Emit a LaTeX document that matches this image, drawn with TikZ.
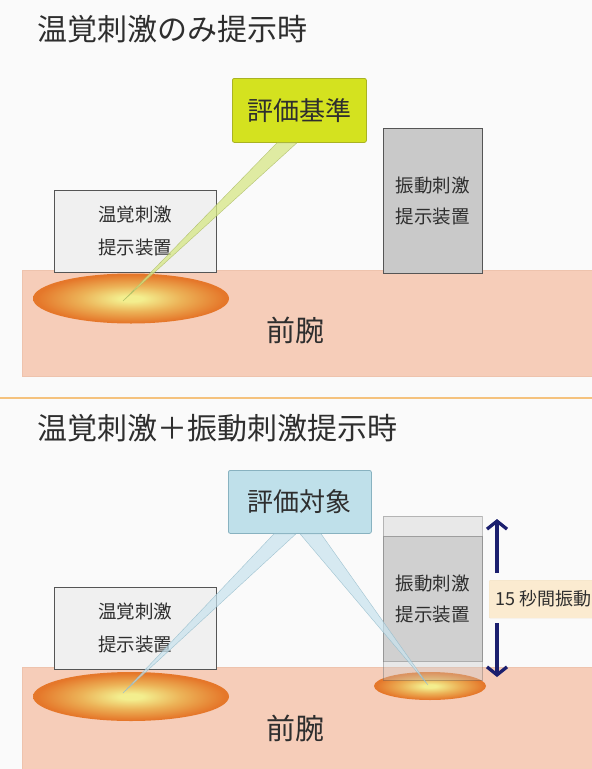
\documentclass[tikz,border=0pt]{standalone}
\usepackage{fontspec}
\newfontfamily\jp{Noto Sans CJK JP}
\usetikzlibrary{arrows.meta,calc}
\definecolor{bgc}{HTML}{FAFAFA}
\definecolor{armc}{HTML}{F6CDB9}
\definecolor{armedge}{HTML}{EEC3AD}
\definecolor{devlight}{HTML}{F0F0F0}
\definecolor{devgray}{HTML}{C9C9C9}
\definecolor{devedge}{HTML}{555555}
\definecolor{evgreen}{HTML}{D4E21F}
\definecolor{evgreenedge}{HTML}{A9B322}
\definecolor{evblue}{HTML}{BFE0EA}
\definecolor{evblueedge}{HTML}{88B2C0}
\definecolor{beamg}{HTML}{D6E785}
\definecolor{beamgedge}{HTML}{A8B860}
\definecolor{beamb}{HTML}{C8E3EE}
\definecolor{beambedge}{HTML}{8FB8C8}
\definecolor{navy}{HTML}{1B1F6E}
\definecolor{labelbg}{HTML}{FBEBD0}
\definecolor{sepc}{HTML}{F5C27D}
\definecolor{txt}{HTML}{2E2E2E}
\definecolor{hy}{HTML}{F3EE8E}
\definecolor{hm}{HTML}{ECB257}
\definecolor{ho}{HTML}{E5772A}
\pgfdeclareradialshading{heat}{\pgfpoint{0bp}{0bp}}{color(0bp)=(hy); color(3bp)=(hy); color(13bp)=(hm); color(24bp)=(ho); color(50bp)=(ho)}
\tikzset{
  armbox/.style={fill=armc, draw=armedge, line width=0.5pt, anchor=north west, inner sep=0pt},
  thermbox/.style={fill=devlight, draw=devedge, line width=0.8pt, anchor=north west, minimum width=162pt, minimum height=82pt, align=center, text=txt, font=\jp\fontsize{18.5}{33}\selectfont, inner sep=0pt},
  vibbox/.style={fill=devgray, draw=devedge, line width=0.8pt, anchor=north west, minimum width=99pt, inner sep=0pt, align=center, text=txt, font=\jp\fontsize{18.5}{31}\selectfont},
  evalbox/.style={anchor=north west, rounded corners=2pt, line width=0.8pt, inner sep=0pt, text=txt, font=\jp\fontsize{26}{26}\selectfont},
  heatspot/.style={shading=heat},
  titletext/.style={anchor=west, text=txt, font=\jp\fontsize{30}{30}\selectfont, inner sep=0pt},
  armtext/.style={text=txt, font=\jp\fontsize{29}{29}\selectfont, inner sep=0pt},
  beamgreen/.style={fill=beamg, fill opacity=0.75, draw=beamgedge, draw opacity=0.8, line width=0.4pt},
  beamblue/.style={fill=beamb, fill opacity=0.7, draw=beambedge, draw opacity=0.8, line width=0.4pt},
  vibarrow/.style={draw=navy, line width=3.3pt, -{Straight Barb[length=8pt,width=20pt,line width=3.3pt]}},
}
\begin{document}
\begin{tikzpicture}[x=1pt,y=-1pt]
\useasboundingbox (0,0) rectangle (592,769);
\fill[bgc] (0,0) rectangle (592,769);
\clip (0,0) rectangle (592,769);

% ---------- top panel ----------
\node[titletext] (title1) at (37,29) {温覚刺激のみ提示時};
\node[armbox, minimum width=575pt, minimum height=106pt] (arm1) at (22,270) {};
\node[armtext] (armlabel1) at (295,330) {前腕};
\path[heatspot] (131,298.5) ellipse [x radius=98, y radius=25];
\coordinate (focus1) at (123,301);
\node[thermbox] (therm1) at (54,190) {温覚刺激\\提示装置};
\node[vibbox, minimum height=145pt] (vib1) at (383,128) {振動刺激\\提示装置};
\node[evalbox, fill=evgreen, draw=evgreenedge, minimum width=134pt, minimum height=64pt] (eval1) at (232,78) {評価基準};
\path[beamgreen] ($(eval1.south west)+(45,0)$) -- ($(eval1.south west)+(65,0)$) -- (focus1) -- cycle;

% separator
\draw[sepc, line width=2pt] (0,398) -- (592,398);

% ---------- bottom panel ----------
\node[titletext] (title2) at (37,428) {温覚刺激＋振動刺激提示時};
\node[armbox, minimum width=575pt, minimum height=106pt] (arm2) at (22,667) {};
\node[armtext] (armlabel2) at (295,728) {前腕};
\path[heatspot] (131,696.5) ellipse [x radius=98, y radius=24.5];
\path[heatspot] (430,686) ellipse [x radius=56, y radius=14];
\coordinate (focus2) at (123,693);
\coordinate (focus3) at (428,685);
\node[thermbox] (therm2) at (54,587) {温覚刺激\\提示装置};
\node[anchor=north west, minimum width=99pt, minimum height=164pt, inner sep=0pt, fill=devgray, fill opacity=0.35, draw=devedge, draw opacity=0.35, line width=0.8pt] (vibghost) at (383,516) {};
\node[vibbox, minimum height=125pt, fill opacity=0.75, draw opacity=0.4, text opacity=1] (vib2) at (383,536) {振動刺激\\提示装置};
\node[evalbox, fill=evblue, draw=evblueedge, minimum width=143pt, minimum height=63pt] (eval2) at (228,470) {評価対象};
\path[beamblue] ($(eval2.south west)+(46,0)$) -- ($(eval2.south west)+(68,0)$) -- (focus2) -- cycle;
\path[beamblue] ($(eval2.south west)+(72,0)$) -- ($(eval2.south west)+(93,0)$) -- (focus3) -- cycle;

\coordinate (upS) at (497,573);
\coordinate (upE) at (497,519);
\coordinate (dnS) at (497,623);
\coordinate (dnE) at (497,677);
\draw[vibarrow] (upS) -- (upE);
\draw[vibarrow] (dnS) -- (dnE);
\node[anchor=north west, fill=labelbg, draw=labelbg!85!black, draw opacity=0.3, minimum width=120pt, minimum height=38pt, inner sep=0pt, rounded corners=1pt] (labelbox) at (489,580) {};
\node[anchor=west, text=txt, font=\jp\fontsize{18}{18}\selectfont, inner sep=0pt] (labeltext) at (495,599) {15 秒間振動};
\end{tikzpicture}
\end{document}
